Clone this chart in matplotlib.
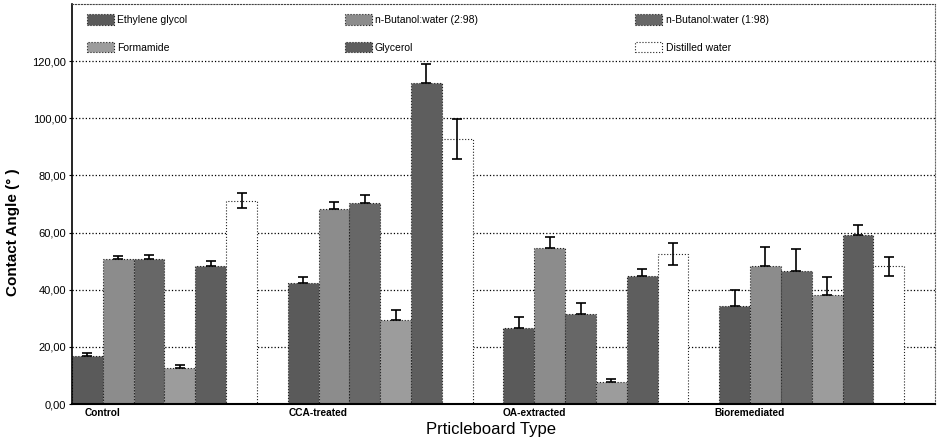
import numpy as np
from matplotlib import pyplot as plt
from matplotlib.patches import Patch

plt.rcParams['font.family'] = ['Liberation Sans', 'DejaVu Sans']

groups = ["Control", "CCA-treated", "OA-extracted", "Bioremediated"]
series = ["Ethylene glycol", "n-Butanol:water (2:98)", "n-Butanol:water (1:98)",
          "Formamide", "Glycerol", "Distilled water"]

ethylene = [16.8, 42.3, 26.5, 34.4]
but_298 = [50.8, 68.1, 54.6, 48.2]
but_198 = [50.8, 70.2, 31.5, 46.7]
formamide = [12.6, 29.5, 7.8, 38.2]
glycerol = [48.4, 112.3, 44.7, 59.3]
water = [71.2, 92.9, 52.6, 48.2]

ethylene_err = [1.0, 2.3, 3.8, 5.4]
but_298_err = [1.0, 2.6, 3.9, 6.7]
but_198_err = [1.3, 3.0, 4.0, 7.6]
formamide_err = [1.0, 3.5, 1.0, 6.4]
glycerol_err = [1.5, 6.7, 2.7, 3.2]
water_err = [2.6, 7.0, 3.8, 3.4]

values = [ethylene, but_298, but_198, formamide, glycerol, water]
errors = [ethylene_err, but_298_err, but_198_err, formamide_err, glycerol_err, water_err]
colors = ["#5a5a5a", "#8c8c8c", "#676767", "#9c9c9c", "#5e5e5e", "#ffffff"]

fig = plt.figure(figsize=(9.39, 4.43), dpi=100)
ax = fig.add_axes([0.0767, 0.088, 0.919, 0.903])

base = np.arange(len(groups)) * 7
for j in range(len(series)):
    xs = base + j
    v = np.array(values[j])
    e = np.array(errors[j])
    ax.bar(xs, v, width=1.0, color=colors[j], edgecolor="#222222",
           linewidth=0.8, linestyle=":", zorder=2)
    # only the white bars show the lower half of the error bar
    if j == 5:
        yerr = e
    else:
        yerr = [np.zeros_like(e), e]
    ax.errorbar(xs, v, yerr=yerr, fmt="none", ecolor="black",
                elinewidth=1.2, capsize=3.5, capthick=1.2, zorder=3)

ax.set_xlim(-0.5, 27.5)
ax.set_ylim(0, 140)
yt = np.arange(0, 121, 20)
ax.set_yticks(yt)
ax.set_yticklabels([("%.2f" % t).replace(".", ",") for t in yt], fontsize=8)
ax.set_xticks(base + 0.5)
ax.set_xticklabels(groups, fontsize=7.3, fontweight="bold")
ax.tick_params(axis="x", length=0, pad=3)
ax.tick_params(axis="y", length=2, pad=2)

ax.yaxis.grid(True, linestyle=":", color="black", linewidth=0.9, zorder=0)
ax.set_axisbelow(True)

ax.spines["left"].set_linewidth(1.2)
ax.spines["bottom"].set_linewidth(1.5)
ax.spines["top"].set_linestyle(":")
ax.spines["top"].set_color("#444444")
ax.spines["right"].set_linestyle(":")
ax.spines["right"].set_color("#666666")

ax.set_ylabel("Contact Angle (° )", fontsize=11, fontweight="bold")
ax.yaxis.set_label_coords(-0.06, 0.43)
ax.set_xlabel("Prticleboard Type", fontsize=12)
ax.xaxis.set_label_coords(0.485, -0.045)

order = [0, 3, 1, 4, 2, 5]
handles = [Patch(facecolor=colors[k], edgecolor="#222222", linestyle=":",
                 linewidth=0.8) for k in order]
labels = [series[k] for k in order]
ax.legend(handles, labels, ncol=3, mode="expand", loc="upper left",
          bbox_to_anchor=(0.012, 0.985, 0.80, 0.0), frameon=False,
          fontsize=7.5, handlelength=2.6, handleheight=1.2, handletextpad=0.3,
          labelspacing=1.6, borderaxespad=0)

fig.savefig("out.png", dpi=100)
